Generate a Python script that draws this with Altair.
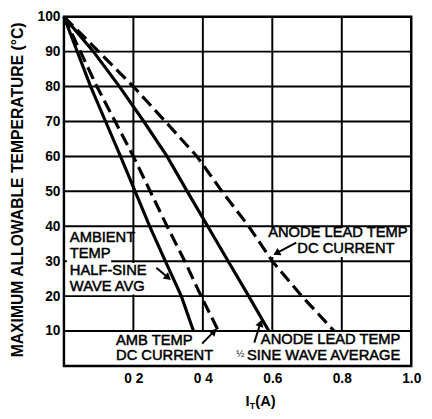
import math
import altair as alt
import pandas as pd

# ---------------- data ----------------
temp_grid = [10, 20, 30, 40, 50, 60, 70, 80, 90]
current_grid = [0.2, 0.4, 0.6, 0.8]

amb_half_y = [100, 80, 70, 60, 50, 40, 30, 20, 10]
amb_half_x = [0.0, 0.077, 0.12, 0.163, 0.205, 0.247, 0.292, 0.338, 0.373]

amb_dc_y = [100, 80, 60, 40, 30, 20, 10]
amb_dc_x = [0.0, 0.095, 0.2, 0.297, 0.348, 0.395, 0.445]

anode_half_y = [100, 90, 80, 70, 60, 50, 40, 30, 20, 10]
anode_half_x = [0.0, 0.085, 0.16, 0.23, 0.297, 0.355, 0.414, 0.473, 0.532, 0.59]

anode_dc_y = [100, 90, 80, 70, 60, 50, 40, 30, 20, 10]
anode_dc_x = [0.0, 0.1, 0.2, 0.292, 0.383, 0.455, 0.532, 0.6, 0.685, 0.778]

x_tick_values = [0.2, 0.4, 0.6, 0.8, 1.0]
x_tick_labels = ["0 2", "0 4", "0.6", "0.8", "1.0"]
y_tick_values = [10, 20, 30, 40, 50, 60, 70, 80, 90, 100]

y_title = "MAXIMUM ALLOWABLE TEMPERATURE (°C)"

ann_text = ["AMBIENT", "TEMP", "HALF-SINE", "WAVE AVG",
            "ANODE LEAD TEMP", "DC CURRENT",
            "AMB TEMP", "DC CURRENT",
            "ANODE LEAD TEMP", "SINE WAVE AVERAGE"]
ann_x = [0.017, 0.017, 0.017, 0.017,
         0.588, 0.672,
         0.150, 0.150,
         0.567, 0.527]
ann_y = [36.8, 32.3, 27.5, 23.0,
         38.2, 33.7,
         7.3, 3.1,
         7.6, 3.2]
half_x, half_y = [0.508], [3.4]

# white boxes behind the labels (hide grid lines)
box_x = [0.0085, 0.0085, 0.0085, 0.579]
box_x2 = [0.195, 0.136, 0.268, 0.994]
box_y = [34.55, 29.5, 20.5, 31.2]
box_y2 = [38.8, 34.55, 29.5, 39.5]

# arrows: tail -> head
arr_x = [0.266, 0.669, 0.398, 0.548]
arr_y = [28.1, 35.3, 6.4, 6.7]
arr_x2 = [0.300, 0.612, 0.432, 0.566]
arr_y2 = [25.3, 32.3, 9.9, 12.3]

# ---------------- layout ----------------
W, H = 354, 356
PXX, PXY = W / 1.0, H / 100.0
FONT = "Liberation Sans"


def series_df(xs, ys):
    return pd.DataFrame({"x": xs, "y": ys, "i": list(range(len(xs)))})


xscale = alt.Scale(domain=[0, 1], nice=False, zero=False)
yscale = alt.Scale(domain=[0, 100], nice=False, zero=False)

label_expr = ""
for v, t in zip(x_tick_values, x_tick_labels):
    label_expr += f"abs(datum.value - {v}) < 0.001 ? '{t}' : "
label_expr += "''"

x_axis = alt.Axis(values=x_tick_values, labelExpr=label_expr, title=None,
                  domain=False, ticks=False, grid=False,
                  labelFont=FONT, labelFontSize=14,
                  labelFontWeight="bold", labelColor="black",
                  labelPadding=6, labelFlush=False, labelOverlap=False)
y_axis = alt.Axis(values=y_tick_values, title=y_title,
                  domain=False, ticks=False, grid=False,
                  labelFont=FONT, labelFontSize=14,
                  labelFontWeight="bold", labelColor="black",
                  labelPadding=4, labelFlush=False, labelOverlap=False,
                  titleFont=FONT, titleFontSize=16,
                  titleFontWeight="bold", titleColor="black",
                  titleAngle=270, titleAlign="center", titleBaseline="middle",
                  titleX=-47, titleY=176)


def X(f):
    return alt.X(f, scale=xscale, axis=x_axis)


def Y(f):
    return alt.Y(f, scale=yscale, axis=y_axis)


hgrid = alt.Chart(pd.DataFrame({"t": temp_grid, "a": 0.0, "b": 1.0})).mark_rule(
    color="black", strokeWidth=2).encode(y=Y("t:Q"), x=X("a:Q"), x2="b:Q")

vgrid = alt.Chart(pd.DataFrame({"c": current_grid, "a": 10.0, "b": 100.0})).mark_rule(
    color="black", strokeWidth=2).encode(x=X("c:Q"), y=Y("a:Q"), y2="b:Q")

boxes = alt.Chart(pd.DataFrame({"x": box_x, "x2": box_x2, "y": box_y, "y2": box_y2})).mark_rect(
    color="white").encode(x=X("x:Q"), x2="x2:Q", y=Y("y:Q"), y2="y2:Q")


def line_layer(xs, ys, dashed):
    kw = dict(color="black", strokeWidth=3.2)
    if dashed:
        kw["strokeDash"] = [13, 6]
    return alt.Chart(series_df(xs, ys)).mark_line(**kw).encode(
        x=X("x:Q"), y=Y("y:Q"), order="i:Q")


l1 = line_layer(amb_half_x, amb_half_y, False)
l2 = line_layer(amb_dc_x, amb_dc_y, True)
l3 = line_layer(anode_half_x, anode_half_y, False)
l4 = line_layer(anode_dc_x, anode_dc_y, True)

texts = alt.Chart(pd.DataFrame({"x": ann_x, "y": ann_y, "t": ann_text})).mark_text(
    align="left", baseline="middle", font=FONT, fontSize=15,
    color="black", stroke="black", strokeWidth=0.5).encode(
    x=X("x:Q"), y=Y("y:Q"), text="t:N")
half = alt.Chart(pd.DataFrame({"x": half_x, "y": half_y, "t": ["½"]})).mark_text(
    align="center", baseline="middle", font=FONT, fontSize=10,
    color="black").encode(x=X("x:Q"), y=Y("y:Q"), text="t:N")

angles = []
for x0, y0, x1, y1 in zip(arr_x, arr_y, arr_x2, arr_y2):
    dx = (x1 - x0) * PXX
    dy = -(y1 - y0) * PXY
    angles.append((math.degrees(math.atan2(dx, -dy)) + 360) % 360)
arr_df = pd.DataFrame({"x": arr_x, "y": arr_y, "x2": arr_x2, "y2": arr_y2, "a": angles})

stems = alt.Chart(arr_df).mark_rule(color="black", strokeWidth=2).encode(
    x=X("x:Q"), x2="x2:Q", y=Y("y:Q"), y2="y2:Q")
heads = alt.Chart(arr_df).mark_point(
    shape="triangle-up", filled=True, color="black", opacity=1, size=70).encode(
    x=X("x2:Q"), y=Y("y2:Q"), angle=alt.Angle("a:Q", scale=None))


def title_piece(txt, px, py, size):
    return alt.Chart(pd.DataFrame({"t": [txt]})).mark_text(
        align="left", baseline="middle", font=FONT, fontSize=size,
        fontWeight="bold", color="black").encode(
        x=alt.value(px), y=alt.value(py), text="t:N")


t1 = title_piece("I", 185, 392, 15)
t2 = title_piece("T", 189.5, 397, 9)
t3 = title_piece("(A)", 195, 392, 15)

chart = alt.layer(hgrid, vgrid, boxes, l1, l2, l3, l4, stems, heads, texts, half,
                  t1, t2, t3).properties(
    width=W, height=H,
    autosize=alt.AutoSizeParams(type="none"),
    padding={"left": 57, "top": 5, "right": 13, "bottom": 42},
    background="white",
).configure_view(stroke="black", strokeWidth=2.5)

chart.save("out.html", embed_options={"renderer": "svg", "actions": False})
